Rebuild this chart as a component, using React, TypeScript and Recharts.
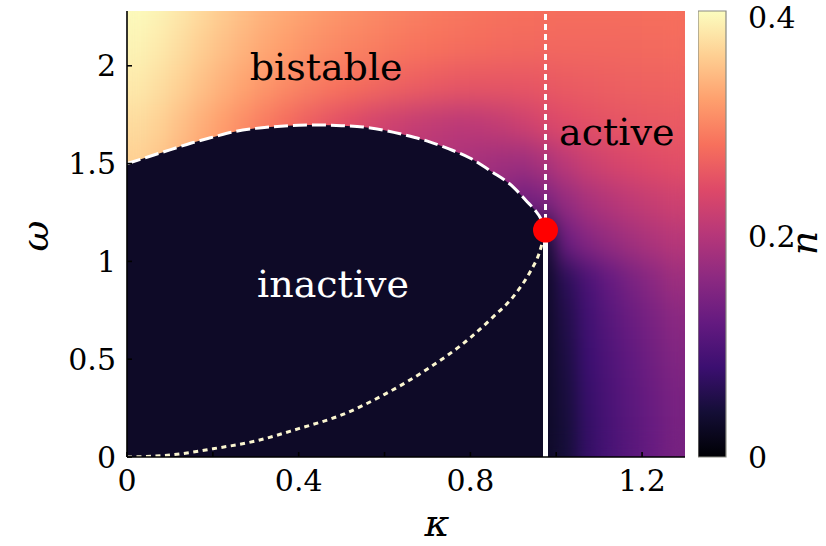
import {
  ComposedChart,
  Scatter,
  Area,
  Line,
  XAxis,
  YAxis,
  ReferenceLine,
  ReferenceDot,
  BarChart,
  Bar,
} from "recharts";

// axis ranges
const KAPPA_MAX = 1.3;
const OMEGA_MAX = 2.28;
const N_MAX = 0.405;

const KAPPA_TICKS = [0, 0.2, 0.4, 0.6, 0.8, 1.0, 1.2];
const KAPPA_LABELED = [0, 0.4, 0.8, 1.2];
const OMEGA_TICKS = [0, 0.5, 1, 1.5, 2];
const N_TICKS = [0, 0.2, 0.4];

// critical point
const KAPPA_C = 0.975;
const OMEGA_C = 1.16;

// upper boundary of the inactive region (dashed)
const UPPER_KAPPA = [0, 0.05, 0.1, 0.15, 0.2, 0.25, 0.3, 0.35, 0.4, 0.45, 0.5, 0.55, 0.6, 0.65, 0.7, 0.75, 0.8, 0.85, 0.9, 0.93, 0.95, 0.965, 0.975];
const UPPER_OMEGA = [1.5, 1.535, 1.57, 1.605, 1.635, 1.663, 1.68, 1.69, 1.696, 1.697, 1.694, 1.687, 1.67, 1.645, 1.615, 1.575, 1.527, 1.458, 1.38, 1.31, 1.263, 1.215, 1.16];

// lower branch (dotted)
const LOWER_KAPPA = [0, 0.1, 0.2, 0.3, 0.4, 0.5, 0.6, 0.7, 0.8, 0.85, 0.9, 0.94, 0.96, 0.975];
const LOWER_OMEGA = [0, 0.01, 0.042, 0.082, 0.145, 0.215, 0.32, 0.45, 0.61, 0.71, 0.82, 0.95, 1.04, 1.16];

// n(kappa, omega) on a coarse grid, rows from top (omega = 2.3) to bottom (omega = 0.1)
const GRID_KAPPA = [0.025, 0.075, 0.125, 0.175, 0.225, 0.275, 0.325, 0.375, 0.425, 0.475, 0.525, 0.575, 0.625, 0.675, 0.725, 0.775, 0.825, 0.875, 0.925, 0.975, 1.025, 1.075, 1.125, 1.175, 1.225, 1.275];
const GRID_OMEGA = [2.3, 2.1, 1.9, 1.7, 1.5, 1.3, 1.1, 0.9, 0.7, 0.5, 0.3, 0.1];
const D_KAPPA = 0.05;
const D_OMEGA = 0.2;
const N_GRID = [
  [0.402, 0.396, 0.386, 0.374, 0.362, 0.351, 0.341, 0.333, 0.326, 0.319, 0.313, 0.307, 0.302, 0.297, 0.293, 0.29, 0.287, 0.285, 0.283, 0.282, 0.281, 0.281, 0.281, 0.281, 0.282, 0.282],
  [0.396, 0.388, 0.377, 0.364, 0.352, 0.341, 0.331, 0.322, 0.314, 0.307, 0.301, 0.296, 0.291, 0.287, 0.284, 0.281, 0.279, 0.277, 0.276, 0.275, 0.275, 0.275, 0.275, 0.276, 0.277, 0.278],
  [0.387, 0.378, 0.366, 0.352, 0.339, 0.327, 0.316, 0.306, 0.297, 0.289, 0.282, 0.276, 0.27, 0.265, 0.261, 0.258, 0.256, 0.256, 0.257, 0.259, 0.262, 0.264, 0.266, 0.268, 0.269, 0.27],
  [0.375, 0.366, 0.352, 0.337, 0.322, 0.307, 0.292, 0.278, 0.265, 0.253, 0.242, 0.232, 0.223, 0.216, 0.211, 0.208, 0.21, 0.216, 0.225, 0.236, 0.244, 0.249, 0.253, 0.256, 0.259, 0.261],
  [0.365, 0.356, 0.342, 0.327, 0.312, 0.297, 0.282, 0.268, 0.255, 0.243, 0.232, 0.222, 0.213, 0.205, 0.198, 0.192, 0.186, 0.18, 0.178, 0.19, 0.208, 0.222, 0.232, 0.239, 0.244, 0.248],
  [0.358, 0.349, 0.336, 0.321, 0.306, 0.291, 0.276, 0.262, 0.249, 0.237, 0.226, 0.216, 0.207, 0.198, 0.189, 0.18, 0.17, 0.155, 0.135, 0.145, 0.17, 0.188, 0.2, 0.21, 0.218, 0.225],
  [0.35, 0.341, 0.328, 0.313, 0.298, 0.284, 0.27, 0.256, 0.243, 0.231, 0.22, 0.21, 0.2, 0.19, 0.178, 0.165, 0.15, 0.12, 0.07, 0.04, 0.13, 0.155, 0.17, 0.182, 0.193, 0.202],
  [0.028, 0.028, 0.028, 0.028, 0.028, 0.028, 0.028, 0.028, 0.028, 0.028, 0.028, 0.028, 0.028, 0.028, 0.028, 0.028, 0.028, 0.028, 0.028, 0.028, 0.065, 0.097, 0.122, 0.142, 0.16, 0.176],
  [0.028, 0.028, 0.028, 0.028, 0.028, 0.028, 0.028, 0.028, 0.028, 0.028, 0.028, 0.028, 0.028, 0.028, 0.028, 0.028, 0.028, 0.028, 0.028, 0.028, 0.055, 0.087, 0.109, 0.127, 0.143, 0.159],
  [0.028, 0.028, 0.028, 0.028, 0.028, 0.028, 0.028, 0.028, 0.028, 0.028, 0.028, 0.028, 0.028, 0.028, 0.028, 0.028, 0.028, 0.028, 0.028, 0.028, 0.05, 0.081, 0.101, 0.118, 0.134, 0.15],
  [0.028, 0.028, 0.028, 0.028, 0.028, 0.028, 0.028, 0.028, 0.028, 0.028, 0.028, 0.028, 0.028, 0.028, 0.028, 0.028, 0.028, 0.028, 0.028, 0.028, 0.046, 0.077, 0.097, 0.113, 0.128, 0.143],
  [0.028, 0.028, 0.028, 0.028, 0.028, 0.028, 0.028, 0.028, 0.028, 0.028, 0.028, 0.028, 0.028, 0.028, 0.028, 0.028, 0.028, 0.028, 0.028, 0.028, 0.043, 0.074, 0.094, 0.11, 0.125, 0.14],
];
const N_INACTIVE = 0.028;

// region names and where their baselines sit
const REGION_NAMES = ["bistable", "inactive", "active"];
const REGION_KAPPA = [0.464, 0.48, 1.141];
const REGION_OMEGA = [1.927, 0.818, 1.595];
const REGION_COLORS = ["#000", "#fff", "#000"];

// layout
const W = 698;
const H = 546;
const MARGIN = { top: 11, right: 13, left: 0, bottom: 0 };
const Y_AXIS_W = 127;
const X_AXIS_H = 89;
const PLOT_X = MARGIN.left + Y_AXIS_W;
const PLOT_Y = MARGIN.top;
const PLOT_W = W - PLOT_X - MARGIN.right;
const PLOT_H = H - PLOT_Y - X_AXIS_H;
const CELL_W = (D_KAPPA * PLOT_W) / KAPPA_MAX + 1;
const CELL_H = (D_OMEGA * PLOT_H) / OMEGA_MAX + 1;

const FONT = "DejaVu Serif";

// matplotlib magma, 11 stops
const MAGMA = ["#000004", "#140e36", "#3b0f70", "#641a80", "#8c2981", "#b73779", "#de4968", "#f7705c", "#fe9f6d", "#fecf92", "#fcfdbf"];

function hexToRgb(h: string) {
  const v = parseInt(h.slice(1), 16);
  return [(v >> 16) & 255, (v >> 8) & 255, v & 255];
}

function magma(n: number) {
  const t = Math.max(0, Math.min(1, n / N_MAX)) * 10;
  const i = Math.min(9, Math.floor(t));
  const f = t - i;
  const a = hexToRgb(MAGMA[i]);
  const b = hexToRgb(MAGMA[i + 1]);
  const c = a.map((x, j) => Math.round(x + (b[j] - x) * f));
  return `rgb(${c[0]},${c[1]},${c[2]})`;
}

const heatCells = GRID_OMEGA.flatMap((w, r) =>
  GRID_KAPPA.map((k, c) => ({ k, w, n: N_GRID[r][c] }))
);
const upperCurve = UPPER_KAPPA.map((k, i) => ({ k, w: UPPER_OMEGA[i] }));
const lowerCurve = LOWER_KAPPA.map((k, i) => ({ k, w: LOWER_OMEGA[i] }));
const colorbarData = [{ name: "n", v: N_MAX }];

const HeatCell = (props: any) => {
  const { cx, cy, payload } = props;
  return (
    <rect
      x={cx - CELL_W / 2}
      y={cy - CELL_H / 2}
      width={CELL_W}
      height={CELL_H}
      fill={magma(payload.n)}
    />
  );
};

const regionLabel = (text: string, color: string) => (p: any) => (
  <text
    x={p.cx}
    y={p.cy}
    textAnchor="middle"
    fill={color}
    fontFamily={FONT}
    fontSize={38}
  >
    {text}
  </text>
);

// axis title, offset from the centre of its axis box, alphabetic baseline
const AxisTitle = (props: any) => {
  const { viewBox, text, offX = 0, offY = 0, turn = 0 } = props;
  const x = viewBox.x + viewBox.width / 2 + offX;
  const y = viewBox.y + viewBox.height / 2 + offY;
  return (
    <text
      x={x}
      y={y}
      textAnchor="middle"
      fill="#000"
      fontFamily={FONT}
      fontStyle="italic"
      fontSize={38}
      transform={turn ? `rotate(${turn} ${x} ${y})` : undefined}
    >
      {text}
    </text>
  );
};

const tickStyle = { fontFamily: FONT, fontSize: 30, fill: "#000" };
const frame = { stroke: "#000", strokeWidth: 1.6 };

export default function App() {
  return (
    <div style={{ position: "fixed", left: 0, top: 0, width: 826, height: 546, background: "#fff" }}>
      <style>{`.phase-map .recharts-scatter { filter: url(#heatBlur); }`}</style>
      <div className="phase-map" style={{ position: "absolute", left: 0, top: 0 }}>
        <ComposedChart width={W} height={H} margin={MARGIN}>
          <defs>
            <filter
              id="heatBlur"
              filterUnits="userSpaceOnUse"
              x={PLOT_X}
              y={PLOT_Y}
              width={PLOT_W}
              height={PLOT_H}
              colorInterpolationFilters="sRGB"
            >
              <feGaussianBlur stdDeviation="8 14" />
              <feComponentTransfer>
                <feFuncA type="linear" slope="0" intercept="1" />
              </feComponentTransfer>
            </filter>
          </defs>
          <Scatter data={heatCells} dataKey="w" shape={HeatCell} zIndex={50} isAnimationActive={false} />
          <Area
            data={upperCurve}
            dataKey="w"
            type="monotone"
            fill={magma(N_INACTIVE)}
            fillOpacity={1}
            stroke="none"
            dot={false}
            activeDot={false}
            zIndex={100}
            isAnimationActive={false}
          />
          <Line
            data={upperCurve}
            dataKey="w"
            type="monotone"
            stroke="#fff"
            strokeWidth={3}
            strokeDasharray="14 5"
            dot={false}
            activeDot={false}
            zIndex={400}
            isAnimationActive={false}
          />
          <Line
            data={lowerCurve}
            dataKey="w"
            type="monotone"
            stroke="#fbf6d0"
            strokeWidth={3}
            strokeDasharray="5 4.5"
            dot={false}
            activeDot={false}
            zIndex={400}
            isAnimationActive={false}
          />
          <ReferenceLine
            segment={[{ x: KAPPA_C, y: 0 }, { x: KAPPA_C, y: OMEGA_C }]}
            stroke="#fff"
            strokeWidth={5}
            zIndex={450}
          />
          <ReferenceLine
            segment={[{ x: KAPPA_C, y: OMEGA_C }, { x: KAPPA_C, y: OMEGA_MAX }]}
            stroke="#fff"
            strokeWidth={3}
            strokeDasharray="6 4"
            zIndex={450}
          />
          <ReferenceDot x={KAPPA_C} y={OMEGA_C} r={12.5} fill="#ff0000" stroke="none" zIndex={700} />
          {REGION_NAMES.map((name, i) => (
            <ReferenceDot
              key={name}
              x={REGION_KAPPA[i]}
              y={REGION_OMEGA[i]}
              r={0}
              zIndex={700}
              shape={regionLabel(name, REGION_COLORS[i])}
            />
          ))}
          <XAxis
            dataKey="k"
            type="number"
            domain={[0, KAPPA_MAX]}
            allowDataOverflow
            ticks={KAPPA_TICKS}
            tickFormatter={(v: number) => (KAPPA_LABELED.includes(v) ? String(v) : "")}
            height={X_AXIS_H}
            tickSize={-5}
            tickMargin={18}
            tick={tickStyle}
            axisLine={frame}
            tickLine={frame}
            label={<AxisTitle text="κ" offX={31} offY={34.5} />}
          />
          <XAxis
            xAxisId="top"
            orientation="top"
            dataKey="k"
            type="number"
            domain={[0, KAPPA_MAX]}
            allowDataOverflow
            ticks={KAPPA_TICKS}
            height={0}
            tickSize={-5}
            tick={false}
            axisLine={frame}
            tickLine={frame}
          />
          <YAxis
            dataKey="w"
            type="number"
            domain={[0, OMEGA_MAX]}
            allowDataOverflow
            ticks={OMEGA_TICKS}
            tickFormatter={(v: number) => String(v)}
            width={Y_AXIS_W}
            tickSize={-5}
            tickMargin={16}
            tick={tickStyle}
            axisLine={frame}
            tickLine={frame}
            label={<AxisTitle text="ω" offX={-15.5} offY={2} turn={-90} />}
          />
          <YAxis
            yAxisId="right"
            orientation="right"
            dataKey="w"
            type="number"
            domain={[0, OMEGA_MAX]}
            allowDataOverflow
            ticks={OMEGA_TICKS}
            width={0}
            tickSize={-5}
            tick={false}
            axisLine={frame}
            tickLine={frame}
          />
        </ComposedChart>
      </div>
      <div style={{ position: "absolute", left: W, top: 0 }}>
        <BarChart
          width={128}
          height={H}
          data={colorbarData}
          margin={{ top: 11, right: 0, bottom: X_AXIS_H, left: 0 }}
          barCategoryGap={0}
        >
          <defs>
            <linearGradient id="magmaBar" x1="0" y1="1" x2="0" y2="0">
              {MAGMA.map((c, i) => (
                <stop key={c} offset={i / 10} stopColor={c} />
              ))}
            </linearGradient>
          </defs>
          <XAxis dataKey="name" hide />
          <YAxis
            orientation="right"
            type="number"
            domain={[0, N_MAX]}
            ticks={N_TICKS}
            tickFormatter={(v: number) => String(v)}
            width={100}
            axisLine={false}
            tickLine={false}
            tickMargin={16}
            tick={tickStyle}
            label={<AxisTitle text="n" offX={41} offY={9} turn={-90} />}
          />
          <Bar
            dataKey="v"
            fill="url(#magmaBar)"
            stroke="#8a8a82"
            strokeWidth={1.2}
            isAnimationActive={false}
          />
        </BarChart>
      </div>
    </div>
  );
}
